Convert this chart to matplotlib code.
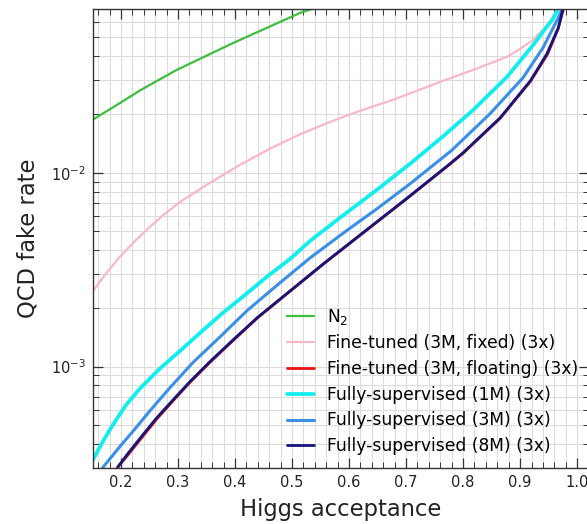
import matplotlib
matplotlib.use("Agg")
import matplotlib.pyplot as plt
from matplotlib.ticker import LogLocator, NullFormatter, MultipleLocator

# ---- data ----
n2_x = [0.150, 0.193, 0.235, 0.298, 0.397, 0.514, 0.535, 0.600, 0.700, 0.800, 0.900, 1.000]
n2_y = [0.01876, 0.02241, 0.02678, 0.03397, 0.04677, 0.06679, 0.07004, 0.085, 0.12, 0.18, 0.30, 1.0]

fixed_x = [0.150, 0.172, 0.198, 0.225, 0.251, 0.277, 0.304, 0.356, 0.409, 0.461, 0.514, 0.567,
           0.614, 0.677, 0.760, 0.818, 0.877, 0.900, 0.923, 0.956, 0.965, 0.990, 1.000]
fixed_y = [0.002435, 0.002979, 0.003690, 0.004462, 0.005267, 0.006146, 0.007087, 0.008882, 0.01100, 0.01330,
           0.01580, 0.01832, 0.02063, 0.02378, 0.02944, 0.03397, 0.03963, 0.04357, 0.04848, 0.06147, 0.07004,
           0.20, 1.0]

float_x = [0.193, 0.212, 0.233, 0.263, 0.295, 0.321, 0.356, 0.397, 0.439, 0.497, 0.553, 0.602,
           0.649, 0.707, 0.777, 0.800, 0.865, 0.918, 0.948, 0.967, 0.976, 0.990, 1.000]
float_y = [0.000300, 0.000350, 0.000418, 0.000538, 0.000685, 0.000830, 0.001052, 0.001368, 0.001780,
           0.002455, 0.003345, 0.004340, 0.005570, 0.007580, 0.01108, 0.01262, 0.01910, 0.02960, 0.04085,
           0.05570, 0.07004, 0.20, 1.0]

sup1_x = [0.150, 0.168, 0.186, 0.208, 0.233, 0.268, 0.304, 0.339, 0.379, 0.418, 0.456, 0.497,
          0.532, 0.584, 0.649, 0.707, 0.768, 0.818, 0.877, 0.923, 0.956, 0.967, 0.990, 1.000]
sup1_y = [0.0003277, 0.0004105, 0.0005023, 0.0006295, 0.0007700, 0.0009765, 0.001209, 0.001497, 0.001898,
          0.002350, 0.002910, 0.003603, 0.004462, 0.005861, 0.008176, 0.01113, 0.01570, 0.02113, 0.03125,
          0.04568, 0.06147, 0.07004, 0.20, 1.0]

sup3_x = [0.168, 0.198, 0.225, 0.251, 0.286, 0.326, 0.374, 0.421, 0.479, 0.532, 0.593, 0.649,
          0.707, 0.779, 0.847, 0.905, 0.940, 0.965, 0.974, 0.990, 1.000]
sup3_y = [0.0003015, 0.0003869, 0.0004790, 0.0005932, 0.0007794, 0.001049, 0.001427, 0.001944, 0.002710,
          0.003646, 0.004964, 0.006523, 0.008777, 0.01298, 0.02014, 0.03089, 0.04409, 0.06147, 0.07004,
          0.20, 1.0]

sup8_x = [0.195, 0.212, 0.233, 0.263, 0.295, 0.321, 0.356, 0.397, 0.439, 0.497, 0.553, 0.602,
          0.649, 0.707, 0.777, 0.800, 0.865, 0.918, 0.947, 0.967, 0.975, 0.990, 1.000]
sup8_y = [0.0003051, 0.0003559, 0.0004255, 0.0005460, 0.0006922, 0.0008371, 0.001061, 0.001377, 0.001789,
          0.002464, 0.003356, 0.004357, 0.005590, 0.007609, 0.01113, 0.01268, 0.01921, 0.02979, 0.04106,
          0.05590, 0.07004, 0.20, 1.0]

labels = ["N$_2$", "Fine-tuned (3M, fixed) (3x)", "Fine-tuned (3M, floating) (3x)",
          "Fully-supervised (1M) (3x)", "Fully-supervised (3M) (3x)", "Fully-supervised (8M) (3x)"]
colors = ["#3dbe3d", "#f8b8c6", "#ee1111", "#11eeee", "#3a8fe8", "#15157a"]

fig = plt.figure(figsize=(5.87, 5.24), dpi=100)
ax = fig.add_axes([0.1576, 0.1069, 0.845, 0.876])

kw = dict(solid_joinstyle="round", solid_capstyle="round")
ax.plot(n2_x, n2_y, color=colors[0], lw=1.6, label=labels[0], **kw)
ax.plot(fixed_x, fixed_y, color=colors[1], lw=1.6, label=labels[1], **kw)
ax.plot(float_x, float_y, color=colors[2], lw=2.0, label=labels[2], **kw)
ax.plot(sup1_x, sup1_y, color=colors[3], lw=2.7, label=labels[3], **kw)
ax.plot(sup3_x, sup3_y, color=colors[4], lw=2.2, label=labels[4], **kw)
ax.plot(sup8_x, sup8_y, color=colors[5], lw=2.0, label=labels[5], **kw)

ax.set_yscale("log")
ax.set_xlim(0.15, 1.02)
ax.set_ylim(3.0e-4, 0.070)
ax.xaxis.set_major_locator(MultipleLocator(0.1))
ax.xaxis.set_minor_locator(MultipleLocator(0.02))
ax.yaxis.set_major_locator(LogLocator(base=10))
ax.yaxis.set_minor_locator(LogLocator(base=10, subs=range(2, 10)))
ax.yaxis.set_minor_formatter(NullFormatter())

ax.grid(True, which="both", color="#dcdcdc", lw=0.8)
ax.set_axisbelow(True)
ax.tick_params(which="both", direction="in", top=True, right=True, colors="#333333", labelcolor="#222222")
ax.tick_params(which="major", length=7, labelsize=10.5, width=0.9, pad=5)
ax.tick_params(which="minor", length=4, width=0.7)
for s in ax.spines.values():
    s.set_color("#333333")
    s.set_linewidth(1.0)

ax.set_xlabel("Higgs acceptance", fontsize=16.3, color="#222222", labelpad=6)
ax.set_ylabel("QCD fake rate", fontsize=16.3, color="#222222", labelpad=8)

ax.legend(loc="lower left", bbox_to_anchor=(0.378, 0.013), frameon=False, fontsize=12.3,
          handlelength=1.6, handletextpad=0.75, labelspacing=0.45, borderaxespad=0.0)

fig.savefig("out.png", dpi=100)
